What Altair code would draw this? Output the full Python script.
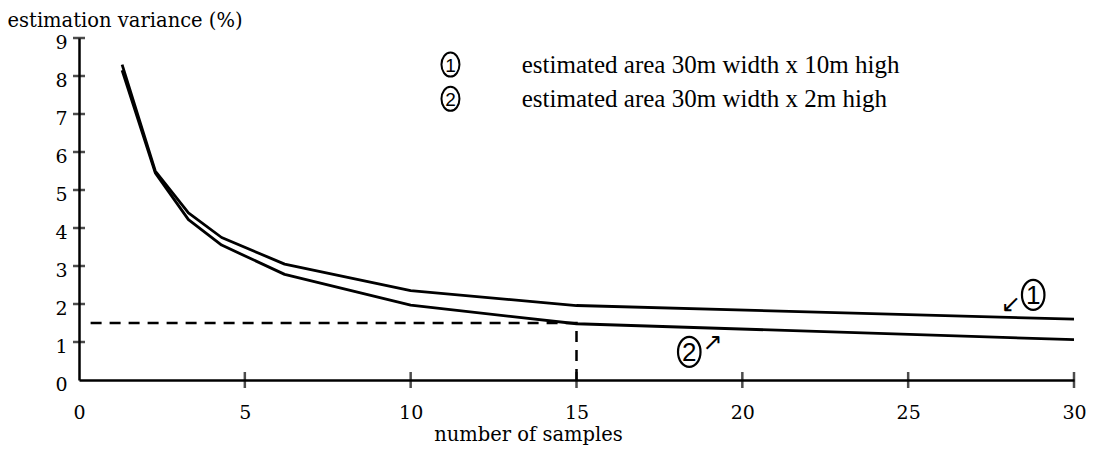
import altair as alt
import pandas as pd

# ---- data ----
samples = [1.3, 2.3, 3.3, 4.3, 6.2, 10, 15, 30]
area_10m = [8.3, 5.5, 4.4, 3.75, 3.05, 2.35, 1.96, 1.6]
area_2m = [8.15, 5.45, 4.22, 3.55, 2.78, 1.97, 1.48, 1.06]

ref_x = [0.35, 15, 15]
ref_y = [1.5, 1.5, 0]

x_tick_values = [0, 5, 10, 15, 20, 25, 30]
y_tick_values = [0, 1, 2, 3, 4, 5, 6, 7, 8, 9]
x_cross_ticks = [5, 10, 15, 20, 25, 30]
y_cross_ticks = [1, 2, 3, 4, 5, 6, 7, 8, 9]

legend_ids = ["1", "2"]
legend_text = ["estimated area 30m width x 10m high",
               "estimated area 30m width x 2m high"]
legend_y = [8.3, 7.4]
legend_mark_x = [11.2, 11.2]
legend_text_x = [13.35, 13.35]

curve_ids = ["1", "2"]
curve_label_x = [28.77, 18.4]
curve_label_y = [2.24, 0.74]
arrow_chars = ["\u2199", "\u2197"]
arrow_x = [28.1, 19.1]
arrow_y = [1.98, 0.98]

W, H = 995, 342
SERIF = "DejaVu Serif"
ELLIPSE = "M0,-1 A0.75,1 0 1,1 0,1 A0.75,1 0 1,1 0,-1 Z"

xs = alt.Scale(domain=[0, 30], nice=False, zero=False)
ys = alt.Scale(domain=[0, 9], nice=False, zero=False)

x_axis = alt.Axis(values=x_tick_values, grid=False, ticks=False,
                  domainColor="black", domainWidth=2.5,
                  labelFont=SERIF, labelFontSize=19, labelColor="black",
                  labelPadding=23, labelFlush=False, labelOverlap=False,
                  title="number of samples", titleFont=SERIF, titleFontSize=19.5,
                  titleFontWeight="normal", titleColor="black",
                  titleX=449, titleY=60, titleBaseline="alphabetic",
                  titleAlign="center")
y_axis = alt.Axis(values=y_tick_values, grid=False, ticks=False,
                  domainColor="black", domainWidth=2.5,
                  labelFont=SERIF, labelFontSize=19, labelColor="black",
                  labelPadding=12, labelOffset=4, labelFlush=False,
                  labelOverlap=False,
                  title="estimation variance (%)", titleFont=SERIF,
                  titleFontSize=19.5, titleFontWeight="normal",
                  titleColor="black", titleAngle=0, titleAlign="left",
                  titleX=-72, titleY=-12, titleBaseline="alphabetic")


def X(field):
    return alt.X(field, type="quantitative", scale=xs, axis=x_axis)


def Y(field):
    return alt.Y(field, type="quantitative", scale=ys, axis=y_axis)


curves = pd.DataFrame({
    "n": samples * 2,
    "v": area_10m + area_2m,
    "series": ["1"] * len(samples) + ["2"] * len(samples),
    "order": list(range(len(samples))) * 2,
})
ref_df = pd.DataFrame({"x": ref_x, "y": ref_y, "o": [0, 1, 2]})
yt_df = pd.DataFrame({"t": y_cross_ticks})
xt_df = pd.DataFrame({"t": x_cross_ticks})
leg_df = pd.DataFrame({"id": legend_ids, "txt": legend_text, "y": legend_y,
                       "mx": legend_mark_x, "tx": legend_text_x})
cl_df = pd.DataFrame({"id": curve_ids, "x": curve_label_x, "y": curve_label_y})
ar_df = pd.DataFrame({"c": arrow_chars, "x": arrow_x, "y": arrow_y})

lines = alt.Chart(curves).mark_line(color="black", strokeWidth=2.8,
                                    strokeJoin="round").encode(
    x=X("n"), y=Y("v"), detail="series:N", order="order:Q")

dashed = alt.Chart(ref_df).mark_line(color="black", strokeWidth=2.5,
                                     strokeDash=[11, 8]).encode(
    x=X("x"), y=Y("y"), order="o:Q")

y_ticks = alt.Chart(yt_df).mark_tick(orient="horizontal", color="black",
                                     size=12, thickness=2.5).encode(
    y=Y("t"), x=alt.value(0))

x_ticks = alt.Chart(xt_df).mark_tick(orient="vertical", color="black",
                                     size=16, thickness=2.5).encode(
    x=X("t"), y=alt.value(H))

leg_marks = alt.Chart(leg_df).mark_point(shape=ELLIPSE, size=576, filled=False,
                                         color="black", strokeWidth=2,
                                         opacity=1).encode(
    x=X("mx"), y=Y("y"))
leg_digits = alt.Chart(leg_df).mark_text(font="Liberation Sans", fontSize=19,
                                         color="black", align="center",
                                         baseline="middle", dy=1).encode(
    x=X("mx"), y=Y("y"), text="id:N")
leg_text = alt.Chart(leg_df).mark_text(font="Liberation Serif", fontSize=25,
                                       color="black", align="left",
                                       baseline="middle").encode(
    x=X("tx"), y=Y("y"), text="txt:N")

cl_marks = alt.Chart(cl_df).mark_point(shape=ELLIPSE, size=900, filled=False,
                                       color="black", strokeWidth=2.2,
                                       opacity=1).encode(
    x=X("x"), y=Y("y"))
cl_digits = alt.Chart(cl_df).mark_text(font="Liberation Sans", fontSize=26,
                                       color="black", align="center",
                                       baseline="middle", dy=1).encode(
    x=X("x"), y=Y("y"), text="id:N")
arrows = alt.Chart(ar_df).mark_text(font="DejaVu Sans", fontSize=24,
                                    color="black", align="center",
                                    baseline="middle").encode(
    x=X("x"), y=Y("y"), text="c:N")

chart = alt.layer(lines, dashed, y_ticks, x_ticks, leg_marks, leg_digits,
                  leg_text, cl_marks, cl_digits, arrows).properties(
    width=W, height=H,
    autosize=alt.AutoSizeParams(type="none"),
    padding={"left": 71, "top": 30, "right": 20, "bottom": 70},
    background="white",
).configure_view(strokeWidth=0)

chart.save("out.html", embed_options={"renderer": "svg", "actions": False})
